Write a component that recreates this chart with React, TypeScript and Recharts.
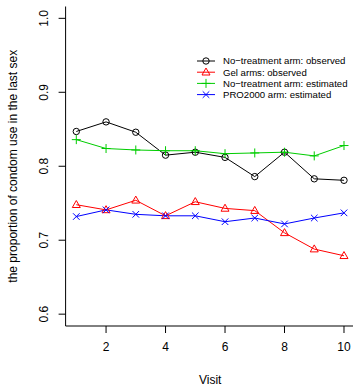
import React from "react";
import { LineChart, Line, XAxis, YAxis } from "recharts";

const visits = [1, 2, 3, 4, 5, 6, 7, 8, 9, 10];
const noTreatObserved = [0.847, 0.86, 0.846, 0.815, 0.819, 0.812, 0.786, 0.819, 0.783, 0.781];
const gelObserved = [0.748, 0.741, 0.754, 0.733, 0.752, 0.743, 0.74, 0.71, 0.688, 0.679];
const noTreatEstimated = [0.836, 0.824, 0.822, 0.821, 0.821, 0.817, 0.818, 0.819, 0.814, 0.828];
const pro2000Estimated = [0.732, 0.741, 0.735, 0.733, 0.733, 0.725, 0.73, 0.722, 0.73, 0.737];

const xTicks = [2, 4, 6, 8, 10];
const yTicks = [0.6, 0.7, 0.8, 0.9, 1.0];

const seriesNames = [
  "No\u2212treatment arm: observed",
  "Gel arms: observed",
  "No\u2212treatment arm: estimated",
  "PRO2000 arm: estimated",
];

const data = visits.map((v, i) => ({
  visit: v,
  a: noTreatObserved[i],
  b: gelObserved[i],
  c: noTreatEstimated[i],
  d: pro2000Estimated[i],
}));

const BLACK = "#000000";
const RED = "#FF0000";
const GREEN = "#00CD00";
const BLUE = "#0000FF";
const FONT = "'Liberation Sans', Arial, Helvetica, sans-serif";

const Circle = (cx: number, cy: number, color: string) => (
  <circle cx={cx} cy={cy} r={3.2} fill="none" stroke={color} strokeWidth={1} />
);
const Triangle = (cx: number, cy: number, color: string) => (
  <polygon
    points={`${cx},${cy - 4.2} ${cx - 4},${cy + 2.8} ${cx + 4},${cy + 2.8}`}
    fill="none"
    stroke={color}
    strokeWidth={1}
  />
);
const Plus = (cx: number, cy: number, color: string) => (
  <path d={`M${cx - 4.5},${cy}H${cx + 4.5}M${cx},${cy - 4.5}V${cy + 4.5}`} stroke={color} strokeWidth={1} fill="none" />
);
const Cross = (cx: number, cy: number, color: string) => (
  <path
    d={`M${cx - 3.3},${cy - 3.3}L${cx + 3.3},${cy + 3.3}M${cx - 3.3},${cy + 3.3}L${cx + 3.3},${cy - 3.3}`}
    stroke={color}
    strokeWidth={1}
    fill="none"
  />
);

const markers = [Circle, Triangle, Plus, Cross];
const colors = [BLACK, RED, GREEN, BLUE];

const makeDot = (idx: number) => (props: any) => {
  const { cx, cy, index } = props;
  if (cx == null || cy == null) return <g key={`e${idx}-${index}`} />;
  return <g key={`d${idx}-${index}`}>{markers[idx](cx, cy, colors[idx])}</g>;
};

const YTick = (props: any) => {
  const { x, y, payload } = props;
  const bx = x - 2;
  return (
    <text
      x={bx}
      y={y}
      transform={`rotate(-90, ${bx}, ${y})`}
      textAnchor="middle"
      fontSize={12}
      fontFamily={FONT}
      fill="#000"
    >
      {payload.value.toFixed(1)}
    </text>
  );
};

const XTick = (props: any) => {
  const { x, y, payload } = props;
  return (
    <text x={x} y={y + 9} textAnchor="middle" fontSize={12} fontFamily={FONT} fill="#000">
      {payload.value}
    </text>
  );
};

const LegendBox = () => (
  <svg width={160} height={50} style={{ position: "absolute", left: 195, top: 54.7, display: "block" }}>
    {seriesNames.map((name, i) => {
      const y = 6 + i * 11.2;
      return (
        <g key={name}>
          <line x1={2} x2={20} y1={y} y2={y} stroke={colors[i]} strokeWidth={1} />
          {markers[i](11, y, colors[i])}
          <text x={28} y={y + 3.4} fontSize={9.6} fontFamily={FONT} fill="#000">
            {name}
          </text>
        </g>
      );
    })}
  </svg>
);

export default function App() {
  return (
    <div style={{ position: "absolute", left: 0, top: 0, width: 353, height: 386, overflow: "hidden", background: "#fff" }}>
      <LineChart
        width={358}
        height={386}
        data={data}
        margin={{ top: 6.5, right: 3.3, bottom: 0, left: 0 }}
      >
        <XAxis
          dataKey="visit"
          type="number"
          domain={[0.64, 10.36]}
          ticks={xTicks}
          allowDataOverflow
          axisLine={{ stroke: "#000" }}
          tickLine={{ stroke: "#000" }}
          tickSize={7}
          tickMargin={9}
          tick={<XTick />}
          height={60}
          label={(p: any) => {
            const vb = p.viewBox;
            return (
              <text
                x={vb.x + vb.width / 2}
                y={384}
                textAnchor="middle"
                fontSize={12}
                fontFamily={FONT}
                fill="#000"
              >
                Visit
              </text>
            );
          }}
        />
        <XAxis
          xAxisId="top"
          orientation="top"
          dataKey="visit"
          type="number"
          domain={[0.64, 10.36]}
          allowDataOverflow
          height={0}
          tick={false}
          tickLine={false}
          axisLine={{ stroke: "#000" }}
        />
        <YAxis
          type="number"
          domain={[0.584, 1.016]}
          ticks={yTicks}
          allowDataOverflow
          axisLine={{ stroke: "#000" }}
          tickLine={{ stroke: "#000" }}
          tickSize={7}
          tickMargin={9}
          width={65.6}
          tick={<YTick />}
          label={(p: any) => {
            const vb = p.viewBox;
            const cy = vb.y + vb.height / 2;
            return (
              <text
                x={17}
                y={cy}
                transform={`rotate(-90, 17, ${cy})`}
                textAnchor="middle"
                fontSize={12}
                fontFamily={FONT}
                fill="#000"
              >
                the proportion of condom use in the last sex
              </text>
            );
          }}
        />
        <YAxis
          yAxisId="right"
          orientation="right"
          type="number"
          domain={[0.584, 1.016]}
          allowDataOverflow
          width={0}
          tick={false}
          tickLine={false}
          axisLine={{ stroke: "#000" }}
        />
        <Line dataKey="a" stroke={BLACK} strokeWidth={1} dot={makeDot(0)} isAnimationActive={false} />
        <Line dataKey="b" stroke={RED} strokeWidth={1} dot={makeDot(1)} isAnimationActive={false} />
        <Line dataKey="c" stroke={GREEN} strokeWidth={1} dot={makeDot(2)} isAnimationActive={false} />
        <Line dataKey="d" stroke={BLUE} strokeWidth={1} dot={makeDot(3)} isAnimationActive={false} />
      </LineChart>
      <LegendBox />
    </div>
  );
}
